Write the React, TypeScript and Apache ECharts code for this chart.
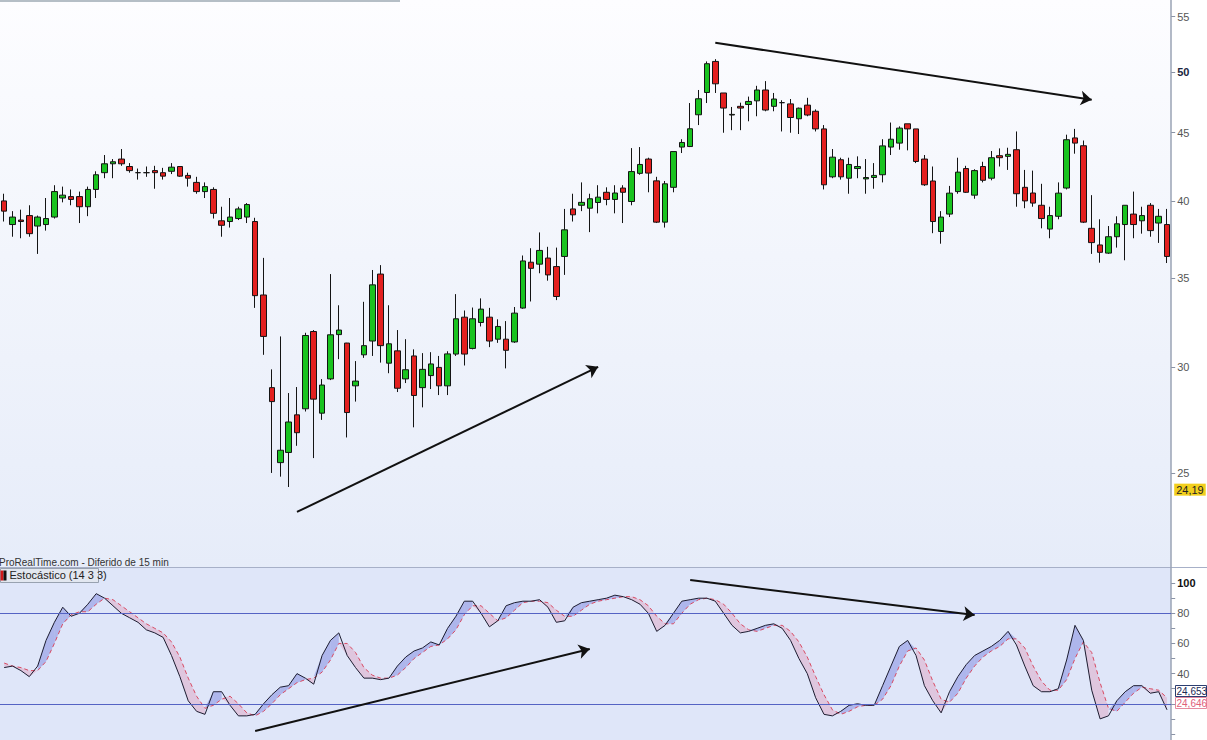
import React, { useEffect, useRef } from "react";
import * as echarts from "echarts";

// ---------- DATA ----------
const OPEN = [
  40.0, 38.4, 38.7, 39.0, 38.3, 38.4, 38.9, 40.2, 40.3, 40.3,
  39.6, 40.8, 42.0, 42.65, 43.0, 42.45, 42.0, 42.0, 42.15, 42.0,
  42.1, 42.45, 41.8, 41.3, 40.65, 40.8, 38.65, 38.6, 38.8, 38.9,
  38.6, 34.0, 28.97, 25.45, 25.9, 27.64, 27.93, 31.92, 27.72, 29.41,
  31.75, 31.29, 29.06, 30.66, 31.4, 35.25, 30.22, 30.87, 29.41, 30.6,
  28.97, 29.58, 30.0, 29.06, 30.7, 32.72, 31.0, 32.42, 32.72, 31.5,
  31.5, 31.35, 33.24, 35.98, 35.86, 36.24, 35.71, 36.34, 39.45, 39.7,
  39.5, 39.89, 40.6, 40.1, 40.9, 39.96, 41.95, 43.0, 41.41, 38.56,
  40.95, 43.9, 43.94, 46.42, 48.24, 50.9, 48.2, 46.4, 47.1, 47.25,
  47.55, 48.45, 47.1, 47.4, 47.3, 46.1, 47.2, 46.7, 45.3, 41.7,
  42.95, 41.6, 42.3, 41.55, 41.65, 41.85, 43.9, 44.2, 45.7, 45.3,
  43.0, 41.4, 37.94, 39.1, 40.65, 42.3, 40.4, 42.45, 41.6, 43.25,
  43.2, 43.7, 40.95, 40.55, 39.7, 38.1, 38.95, 40.9, 44.6, 44.0,
  38.15, 37.07, 36.55, 37.6, 38.4, 39.1, 38.65, 39.7, 38.5, 38.4,
];
const CLOSE = [
  39.3, 38.9, 38.6, 37.8, 38.9, 38.8, 40.65, 40.4, 40.1, 39.6,
  40.8, 41.85, 42.65, 42.8, 42.65, 42.15, 42.0, 42.0, 42.0, 41.75,
  42.4, 41.75, 41.6, 40.65, 41.0, 39.15, 38.35, 38.9, 39.45, 39.75,
  33.96, 31.65, 28.28, 26.0, 27.3, 26.8, 31.7, 28.4, 29.1, 31.74,
  32.0, 27.75, 29.3, 31.15, 34.6, 31.15, 31.25, 28.94, 29.88, 28.58,
  29.9, 30.18, 29.06, 30.71, 32.63, 30.7, 32.63, 33.18, 31.4, 32.2,
  30.9, 32.95, 36.06, 35.6, 36.72, 35.2, 33.91, 38.05, 39.05, 39.9,
  40.15, 40.26, 40.1, 40.55, 40.6, 42.08, 42.6, 41.97, 38.56, 41.2,
  43.56, 44.25, 45.31, 47.72, 50.7, 48.97, 46.96, 46.45, 46.96, 47.5,
  48.45, 46.8, 47.7, 47.4, 46.2, 46.95, 46.4, 45.3, 41.13, 43.14,
  41.7, 42.6, 42.45, 41.65, 41.8, 43.99, 44.5, 45.36, 45.3, 42.82,
  41.13, 38.6, 38.9, 40.54, 42.04, 40.6, 42.15, 41.45, 43.1, 43.1,
  43.35, 40.5, 40.0, 39.85, 38.8, 39.0, 40.54, 44.46, 44.2, 38.56,
  37.22, 36.6, 37.6, 38.45, 39.7, 38.4, 39.0, 38.0, 38.95, 36.34,
];
const LOW = [
  38.6, 37.6, 37.5, 37.6, 36.5, 38.0, 38.8, 39.9, 39.7, 38.5,
  38.96, 40.2, 41.6, 41.6, 42.5, 42.0, 41.5, 41.7, 40.85, 41.5,
  41.9, 41.7, 41.0, 40.5, 40.2, 38.8, 37.6, 38.2, 38.7, 38.5,
  33.25, 30.66, 25.0, 24.84, 24.4, 26.2, 27.8, 25.65, 27.4, 29.35,
  30.43, 26.58, 28.28, 30.5, 30.6, 30.25, 29.7, 28.75, 29.2, 27.05,
  28.0, 28.9, 28.6, 28.6, 30.6, 30.1, 30.95, 32.2, 31.07, 31.3,
  29.95, 31.3, 33.2, 33.62, 35.3, 34.85, 33.7, 35.2, 38.6, 39.3,
  37.9, 39.15, 39.7, 39.15, 38.5, 39.7, 41.85, 40.6, 38.5, 38.2,
  40.6, 43.45, 43.9, 45.6, 47.37, 48.2, 45.0, 45.2, 45.2, 45.9,
  46.3, 46.7, 46.7, 45.1, 45.0, 44.9, 46.3, 45.1, 40.8, 41.6,
  41.5, 40.5, 41.6, 40.5, 40.85, 41.3, 43.3, 43.7, 43.65, 42.7,
  41.05, 37.83, 37.15, 38.9, 40.5, 40.55, 40.15, 41.3, 41.45, 42.45,
  42.2, 39.6, 39.5, 39.6, 38.15, 37.5, 38.75, 40.8, 43.4, 38.5,
  36.5, 35.95, 36.5, 36.9, 36.1, 37.5, 37.8, 37.6, 37.2, 35.93,
];
const HIGH = [
  40.5, 39.3, 39.4, 39.7, 39.0, 40.2, 41.1, 41.0, 40.8, 40.65,
  41.0, 42.1, 43.3, 43.0, 43.75, 42.7, 42.3, 42.45, 42.5, 42.35,
  42.7, 42.45, 42.0, 41.7, 41.3, 40.95, 39.6, 40.2, 39.6, 39.85,
  38.85, 36.25, 29.9, 31.65, 28.7, 29.0, 31.85, 32.0, 29.4, 35.25,
  33.4, 31.3, 30.33, 33.6, 35.5, 35.8, 33.4, 32.0, 31.5, 30.95,
  30.75, 30.8, 30.6, 30.85, 34.05, 33.1, 33.27, 33.8, 33.25, 32.6,
  32.5, 33.3, 36.4, 36.86, 37.88, 36.95, 36.9, 39.45, 40.5, 41.3,
  40.5, 41.1, 40.95, 41.1, 41.1, 43.82, 43.9, 43.1, 41.7, 41.4,
  43.56, 44.5, 47.37, 48.45, 50.9, 51.1, 48.2, 47.05, 47.4, 47.9,
  48.8, 49.2, 48.2, 47.6, 47.7, 47.0, 47.8, 46.85, 45.6, 43.75,
  43.1, 43.1, 43.2, 43.0, 42.7, 44.5, 45.8, 45.5, 45.7, 45.3,
  43.3, 42.45, 39.3, 41.05, 43.1, 42.5, 42.25, 42.8, 43.6, 43.8,
  43.85, 45.1, 42.2, 42.15, 41.2, 39.6, 41.3, 44.85, 45.3, 44.4,
  40.4, 38.75, 38.3, 38.95, 39.7, 40.65, 39.6, 39.85, 39.45, 39.45,
];

// Stochastic (14 3 3): %K (black line) and %D (red dashed line)
const STOCH_K = [
  44, 45, 42, 38, 45, 62, 74, 84, 78, 80,
  86, 93, 90, 85, 80, 77, 74, 69, 67, 64,
  52, 38, 22, 15, 13, 28, 28, 19, 12, 12,
  13, 20, 26, 31, 32, 40, 37, 33, 52, 62,
  67, 52, 44, 37, 37, 36, 37, 45, 51, 55,
  57, 61, 59, 70, 78, 88, 88, 80, 71, 75,
  85, 87, 88, 88, 89, 84, 74, 75, 84, 87,
  88, 89, 90, 92, 91, 89, 86, 80, 68, 72,
  80, 88, 89, 90, 90, 88, 80, 72, 67, 68,
  70, 72, 73, 70, 62, 50, 40, 24, 13, 12,
  15, 19, 20, 19, 19, 32, 45, 58, 62, 52,
  32, 22, 14, 28, 38, 46, 52, 55, 58, 62,
  68, 59, 45, 32, 28, 28, 30, 49, 72, 62,
  29, 10, 12, 22, 28, 32, 32, 27, 28, 16,
];
const STOCH_D = [
  47, 45, 44, 42, 42, 48, 60, 73, 79, 81,
  81, 86, 90, 89, 85, 81, 77, 73, 70, 67,
  61, 51, 37, 25, 17, 19, 23, 25, 20, 14,
  12, 15, 20, 26, 30, 34, 36, 37, 41, 49,
  60, 60, 54, 44, 39, 37, 37, 39, 44, 50,
  54, 58, 59, 63, 69, 79, 85, 85, 80, 75,
  77, 82, 87, 88, 88, 87, 82, 78, 78, 82,
  86, 88, 89, 90, 91, 91, 89, 85, 78, 73,
  73, 80, 86, 89, 90, 89, 86, 80, 73, 69,
  68, 70, 72, 72, 68, 61, 51, 38, 26, 16,
  13, 15, 18, 19, 19, 23, 32, 45, 55, 57,
  49, 35, 23, 21, 27, 37, 45, 51, 55, 58,
  63, 63, 57, 45, 35, 29, 29, 36, 50, 61,
  54, 34, 17, 15, 21, 27, 31, 30, 29, 24,
];

const CATEGORIES = OPEN.map((_, i) => String(i + 1));
const PRICE_TICKS = [25, 30, 35, 40, 45, 50, 55];
const STOCH_LABELS = [40, 60, 80, 100];
const STOCH_TICKS = [0, 10, 20, 30, 40, 50, 60, 70, 80, 90, 100];
const STOCH_LEVELS = [80, 20];
const PRICE_MARK = 24.19;
// annotation arrows: [fromIndex, fromValue, toIndex, toValue]
const PRICE_ARROWS = [
  [35.0, 23.37, 71.0, 30.03],
  [85.0, 52.57, 129.9, 47.64],
];
const STOCH_ARROWS = [
  [30.1, 2.0, 70.0, 56.3],
  [81.9, 102.0, 115.9, 78.85],
];

const FONT = "'Liberation Sans', Arial, sans-serif";

export default function App() {
  const ref = useRef<HTMLDivElement>(null);

  useEffect(() => {
    if (!ref.current) return;
    const chart = echarts.init(ref.current, null, { renderer: "svg" });
    const N = OPEN.length;
    const ln = Math.log;
    const candles = OPEN.map((o, i) => [ln(o), ln(CLOSE[i]), ln(LOW[i]), ln(HIGH[i])]);
    const blue = "rgba(95,105,215,0.38)";
    const pink = "rgba(225,130,165,0.32)";

    const option: any = {
      animation: false,
      backgroundColor: "transparent",
      textStyle: { fontFamily: FONT },
      grid: [
        { left: -4.2, right: 35.8, top: 0, height: 567 },
        { left: -4.2, right: 35.8, top: 568, height: 172 },
      ],
      xAxis: [
        {
          type: "category", gridIndex: 0, data: CATEGORIES, boundaryGap: true,
          axisLine: { show: false }, axisTick: { show: false }, axisLabel: { show: false },
          splitLine: { show: false },
        },
        {
          type: "category", gridIndex: 1, data: CATEGORIES, boundaryGap: true,
          axisLine: { show: false }, axisTick: { show: false }, axisLabel: { show: false },
          splitLine: { show: false },
        },
      ],
      yAxis: [
        {
          type: "value", gridIndex: 0, position: "right",
          min: Math.log(21.25), max: Math.log(56.6),
          axisLine: { show: true, lineStyle: { color: "#9aa3b5", width: 1.5 } },
          axisTick: { show: true, length: 4, inside: false, customValues: PRICE_TICKS.map(ln), lineStyle: { color: "#8a93a5" } },
          axisLabel: {
            show: true, margin: 6, fontSize: 11, color: "#555", fontFamily: FONT,
            customValues: PRICE_TICKS.map(ln),
            formatter: (v: number) => {
              const n = Math.round(Math.exp(v));
              return n === 50 ? "{b|" + n + "}" : String(n);
            },
            rich: { b: { fontWeight: "bold", color: "#1a2540", fontSize: 11, fontFamily: FONT } },
          },
          splitLine: { show: false },
        },
        {
          type: "value", gridIndex: 1, position: "right", min: -4, max: 110,
          axisLine: { show: true, lineStyle: { color: "#9aa3b5", width: 1.5 } },
          axisTick: { show: true, length: 4, customValues: STOCH_TICKS, lineStyle: { color: "#8a93a5" } },
          axisLabel: {
            show: true, margin: 6, fontSize: 11, color: "#555", fontFamily: FONT,
            customValues: STOCH_LABELS,
            formatter: (v: number) => (v === 100 ? "{b|100}" : String(v)),
            rich: { b: { fontWeight: "bold", color: "#111", fontSize: 11, fontFamily: FONT } },
          },
          splitLine: { show: false },
        },
      ],
      series: [
        {
          type: "candlestick", xAxisIndex: 0, yAxisIndex: 0, data: candles, barWidth: 6,
          itemStyle: {
            color: "#19c31f", color0: "#e3201f",
            borderColor: "#141414", borderColor0: "#141414", borderWidth: 1,
          },
          markLine: {
            silent: true, animation: false,
            symbol: ["none", "arrow"], symbolSize: 11,
            lineStyle: { color: "#111", width: 2, type: "solid" },
            label: { show: false },
            data: PRICE_ARROWS.map((a) => [
              { coord: [a[0], ln(a[1])] },
              { coord: [a[2], ln(a[3])] },
            ]),
          },
        },
        {
          type: "line", name: "mark", xAxisIndex: 0, yAxisIndex: 0,
          data: [], symbol: "none",
          markLine: {
            silent: true, animation: false, symbol: ["none", "none"],
            lineStyle: { color: "rgba(0,0,0,0)", width: 0 },
            label: {
              show: true, position: "end", distance: 3,
              formatter: "24,19", backgroundColor: "#f2cf1d", color: "#222",
              fontSize: 11, fontFamily: FONT, padding: [1, 2, 0, 2],
            },
            data: [{ yAxis: ln(PRICE_MARK) }],
          },
        },
        {
          type: "custom", xAxisIndex: 1, yAxisIndex: 1, silent: true, z: 1,
          data: STOCH_K.map((k, i) => [i, k, STOCH_D[i]]),
          encode: { x: 0, y: 1 },
          renderItem: (params: any, api: any) => {
            const i = params.dataIndex;
            if (i >= N - 1) return null;
            const k0 = STOCH_K[i], k1 = STOCH_K[i + 1];
            const d0 = STOCH_D[i], d1 = STOCH_D[i + 1];
            const P = (x: number, y: number) => api.coord([x, y]);
            const f0 = k0 - d0, f1 = k1 - d1;
            const children: any[] = [];
            if (f0 * f1 >= 0) {
              children.push({
                type: "polygon",
                shape: { points: [P(i, k0), P(i + 1, k1), P(i + 1, d1), P(i, d0)] },
                style: { fill: f0 + f1 >= 0 ? blue : pink },
              });
            } else {
              const t = f0 / (f0 - f1);
              const xm = i + t, ym = k0 + (k1 - k0) * t;
              children.push({
                type: "polygon",
                shape: { points: [P(i, k0), P(xm, ym), P(i, d0)] },
                style: { fill: f0 > 0 ? blue : pink },
              });
              children.push({
                type: "polygon",
                shape: { points: [P(xm, ym), P(i + 1, k1), P(i + 1, d1)] },
                style: { fill: f1 > 0 ? blue : pink },
              });
            }
            return { type: "group", children };
          },
        },
        {
          type: "line", name: "%D", xAxisIndex: 1, yAxisIndex: 1, data: STOCH_D,
          symbol: "none", z: 3,
          lineStyle: { color: "#d84a62", width: 1, type: [4, 3] },
          markLine: {
            silent: true, animation: false, symbol: ["none", "none"],
            lineStyle: { color: "#5563c4", width: 1, type: "solid" },
            label: { show: false },
            data: STOCH_LEVELS.map((v) => ({ yAxis: v })),
          },
        },
        {
          type: "line", name: "%K", xAxisIndex: 1, yAxisIndex: 1, data: STOCH_K,
          symbol: "none", z: 4,
          lineStyle: { color: "#1c1c30", width: 1 },
          markLine: {
            silent: true, animation: false,
            symbol: ["none", "arrow"], symbolSize: 11,
            lineStyle: { color: "#111", width: 2, type: "solid" },
            label: { show: false },
            data: STOCH_ARROWS.map((a) => [
              { coord: [a[0], a[1]] },
              { coord: [a[2], a[3]] },
            ]),
          },
        },
      ],
      graphic: [
        {
          type: "text", left: -1, top: 557, silent: true,
          style: { text: "ProRealTime.com - Diferido de 15 min", fill: "#333", font: "10px " + FONT },
        },
        {
          type: "group", left: 0, top: 568, silent: true,
          children: [
            { type: "rect", shape: { x: 0, y: 0, width: 98, height: 14 }, style: { fill: "#e2e7f0", stroke: "#98a2b0", lineWidth: 1 } },
            { type: "rect", shape: { x: 0, y: 2, width: 3, height: 10 }, style: { fill: "#d01818" } },
            { type: "rect", shape: { x: 3, y: 2, width: 3, height: 10 }, style: { fill: "#111" } },
            { type: "text", x: 9, y: 1, style: { text: "Estocástico (14 3 3)", fill: "#222", font: "11px " + FONT } },
          ],
        },
        {
          type: "group", left: 1175, top: 685, silent: true,
          children: [
            { type: "rect", shape: { x: 0, y: 0, width: 31, height: 11 }, style: { fill: "#ffffff", stroke: "#2c3e70", lineWidth: 1 } },
            { type: "text", x: 1, y: 1, style: { text: "24,653", fill: "#1b2a55", font: "10px " + FONT } },
          ],
        },
        {
          type: "group", left: 1175, top: 697, silent: true,
          children: [
            { type: "rect", shape: { x: 0, y: 0, width: 31, height: 11 }, style: { fill: "#ffffff", stroke: "#e58aa0", lineWidth: 1 } },
            { type: "text", x: 1, y: 1, style: { text: "24,646", fill: "#e0607a", font: "10px " + FONT } },
          ],
        },
      ],
    };
    chart.setOption(option);
    return () => chart.dispose();
  }, []);

  return (
    <div style={{ position: "fixed", left: 0, top: 0, width: 1207, height: 740, background: "#ffffff", overflow: "hidden" }}>
      <div style={{ position: "absolute", left: 0, top: 0, width: 1171, height: 567, background: "linear-gradient(to bottom, #fdfdff 0%, #f2f5fc 45%, #e6ecf9 100%)" }} />
      <div style={{ position: "absolute", left: 0, top: 568, width: 1171, height: 172, background: "#dfe6f9" }} />
      <div style={{ position: "absolute", left: 0, top: 567, width: 1207, height: 1, background: "#a7b0c8" }} />
      <div style={{ position: "absolute", left: 0, top: 0, width: 400, height: 2, background: "#b5bec6" }} />
      <div ref={ref} style={{ position: "absolute", left: 0, top: 0, width: 1207, height: 740 }} />
    </div>
  );
}
